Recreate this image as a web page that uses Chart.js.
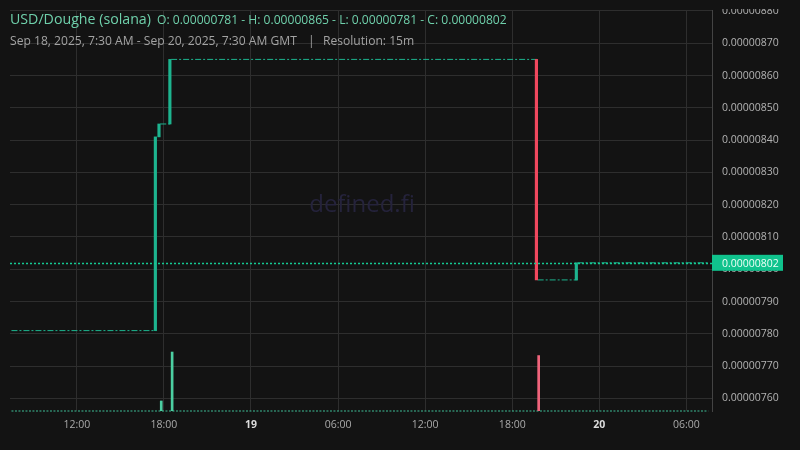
<!DOCTYPE html>
<html>
<head>
<meta charset="utf-8">
<script src="https://cdn.jsdelivr.net/npm/chart.js@4.4.1/dist/chart.umd.min.js"></script>
<style>
html, body { margin: 0; padding: 0; background: #131313; }
canvas { display: block; }
</style>
</head>
<body>
<canvas id="priceChart" width="800" height="450"></canvas>
<script>
// time is in hours counted from Sep 18, 2025 00:00 GMT
const candleTimes = [17.5, 17.75, 18.5, 43.75, 46.5];
const candleOpen = [0.00000781, 0.00000841, 0.00000845, 0.00000865, 0.000007967];
const candleClose = [0.00000841, 0.00000845, 0.00000865, 0.000007967, 0.00000802];

// 15m candles with no trades, drawn as flat dashes
const flatFrom = [7.5, 17.75, 18.5, 43.75, 46.5];
const flatTo = [17.5, 18.5, 43.75, 46.5, 55.5];
const flatPrice = [0.00000781, 0.00000845, 0.00000865, 0.000007967, 0.00000802];

const volumeTimes = [17.75, 18.5, 43.75];
const volumeValues = [17, 100, 94];
const volumeUp = [true, true, false];

const timeTicks = [12, 18, 24, 30, 36, 42, 48, 54];
const timeLabels = ['12:00', '18:00', '19', '06:00', '12:00', '18:00', '20', '06:00'];
const priceTicks = [0.0000076, 0.0000077, 0.0000078, 0.0000079, 0.0000080, 0.0000081,
    0.0000082, 0.0000083, 0.0000084, 0.0000085, 0.0000086, 0.0000087, 0.0000088];

const GREEN = '#1db48f';
const RED = '#f0485e';
const BG = '#131313';
const FONT = "'Open Sans', sans-serif";

const lastClose = candleClose[candleClose.length - 1];
const highPrice = Math.max(...candleOpen, ...candleClose);
const lowPrice = Math.min(...candleOpen, ...candleClose);

const flatData = [];
flatFrom.forEach((t, i) => {
    flatData.push({ x: t, y: flatPrice[i] });
    flatData.push({ x: flatTo[i], y: flatPrice[i] });
    flatData.push({ x: flatTo[i], y: null });
});

const decorPlugin = {
    id: 'decor',
    beforeDraw(chart) {
        const ctx = chart.ctx;
        ctx.save();
        ctx.fillStyle = BG;
        ctx.fillRect(0, 0, chart.width, chart.height);
        ctx.restore();
    },
    beforeDatasetsDraw(chart) {
        const ctx = chart.ctx;
        ctx.save();
        ctx.font = '24px ' + FONT;
        ctx.fillStyle = '#25233c';
        ctx.textAlign = 'center';
        ctx.textBaseline = 'middle';
        ctx.fillText('defined.fi', 362, 205);
        ctx.restore();
    },
    afterDraw(chart) {
        const ctx = chart.ctx;
        const area = chart.chartArea;
        const y = chart.scales.y.getPixelForValue(lastClose);
        ctx.save();
        // last price line
        ctx.strokeStyle = '#14c993';
        ctx.lineWidth = 1.3;
        ctx.setLineDash([2, 2]);
        ctx.beginPath();
        ctx.moveTo(area.left, Math.round(y) + 0.5);
        ctx.lineTo(area.right, Math.round(y) + 0.5);
        ctx.stroke();
        ctx.setLineDash([]);
        // last price box
        ctx.fillStyle = '#10c38d';
        ctx.fillRect(area.right, y - 8, 71, 16);
        ctx.fillStyle = '#eefff7';
        ctx.font = '10.5px ' + FONT;
        ctx.textBaseline = 'middle';
        ctx.fillText(lastClose.toFixed(8), 722, y + 1);
        // header hides top of axis
        ctx.fillStyle = BG;
        ctx.fillRect(area.right + 1, 0, chart.width - area.right, 9);
        // title lines
        ctx.textBaseline = 'alphabetic';
        ctx.font = '14.2px ' + FONT;
        ctx.fillStyle = '#6fd0ab';
        ctx.fillText('USD/Doughe (solana)', 10, 24);
        ctx.font = '12.1px ' + FONT;
        ctx.fillText('O: ' + flatPrice[0].toFixed(8) + ' - H: ' + highPrice.toFixed(8) +
            ' - L: ' + lowPrice.toFixed(8) + ' - C: ' + lastClose.toFixed(8), 157, 24);
        ctx.fillStyle = '#a3a3a3';
        ctx.fillText('Sep 18, 2025, 7:30 AM - Sep 20, 2025, 7:30 AM GMT', 10, 45);
        ctx.fillText('|', 308, 45);
        ctx.fillText('Resolution: 15m', 323, 45);
        ctx.restore();
    }
};

const chart = new Chart(document.querySelector('#priceChart'), {
    data: {
        datasets: [
            {
                type: 'bar',
                data: candleTimes.map((t, i) => ({ x: t, y: [candleOpen[i], candleClose[i]] })),
                backgroundColor: candleTimes.map((t, i) => candleClose[i] >= candleOpen[i] ? GREEN : RED),
                barThickness: 2.5,
                borderWidth: 0,
                yAxisID: 'y',
                order: 1
            },
            {
                type: 'line',
                data: flatData,
                borderColor: GREEN,
                borderWidth: 1,
                borderDash: [6, 2, 2, 2],
                pointRadius: 0,
                spanGaps: false,
                yAxisID: 'y',
                order: 2
            },
            {
                type: 'bar',
                data: volumeTimes.map((t, i) => ({ x: t, y: volumeValues[i] })),
                backgroundColor: volumeUp.map(u => u ? '#4ccfa2' : '#f0647b'),
                barThickness: 2,
                borderWidth: 0,
                yAxisID: 'vol',
                order: 3
            },
            {
                type: 'line',
                data: [{ x: flatFrom[0], y: 0 }, { x: flatTo[flatTo.length - 1], y: 0 }],
                borderColor: '#3fbf98',
                borderWidth: 1.2,
                borderDash: [2, 1.5],
                pointRadius: 0,
                clip: false,
                yAxisID: 'vol',
                order: 4
            }
        ]
    },
    options: {
        responsive: false,
        animation: false,
        devicePixelRatio: 1,
        layout: { padding: { left: 10, top: 10, right: 0, bottom: 0 } },
        plugins: {
            legend: { display: false },
            tooltip: { enabled: false }
        },
        scales: {
            x: {
                type: 'linear',
                offset: false,
                min: 7.4,
                max: 55.76,
                afterBuildTicks: s => { s.ticks = timeTicks.map(v => ({ value: v })); },
                afterFit: s => { s.height = 39; s.paddingLeft = 0; s.paddingRight = 0; },
                grid: { color: '#2e2e2e', drawTicks: false, offset: false },
                border: { display: false },
                ticks: {
                    autoSkip: false,
                    maxRotation: 0,
                    padding: 8,
                    callback: (v, i) => timeLabels[i],
                    color: c => (c.index === 2 || c.index === 6) ? '#dcdcdc' : '#aaaaaa',
                    font: c => ({ family: FONT, size: 10.5, weight: (c.index === 2 || c.index === 6) ? 'bold' : 'normal' })
                }
            },
            y: {
                position: 'right',
                min: 0.000007561,
                max: 0.000008803,
                afterBuildTicks: s => { s.ticks = priceTicks.map(v => ({ value: v })); },
                afterFit: s => { s.width = 88; s.paddingTop = 0; s.paddingBottom = 0; },
                grid: { color: '#2e2e2e', drawTicks: false },
                border: { color: '#444444' },
                ticks: {
                    padding: 10,
                    color: '#b3b3b3',
                    font: { family: FONT, size: 10.5 },
                    callback: v => Number(v).toFixed(8)
                }
            },
            vol: {
                display: false,
                min: 0,
                max: 680
            }
        }
    },
    plugins: [decorPlugin]
});
</script>
</body>
</html>
